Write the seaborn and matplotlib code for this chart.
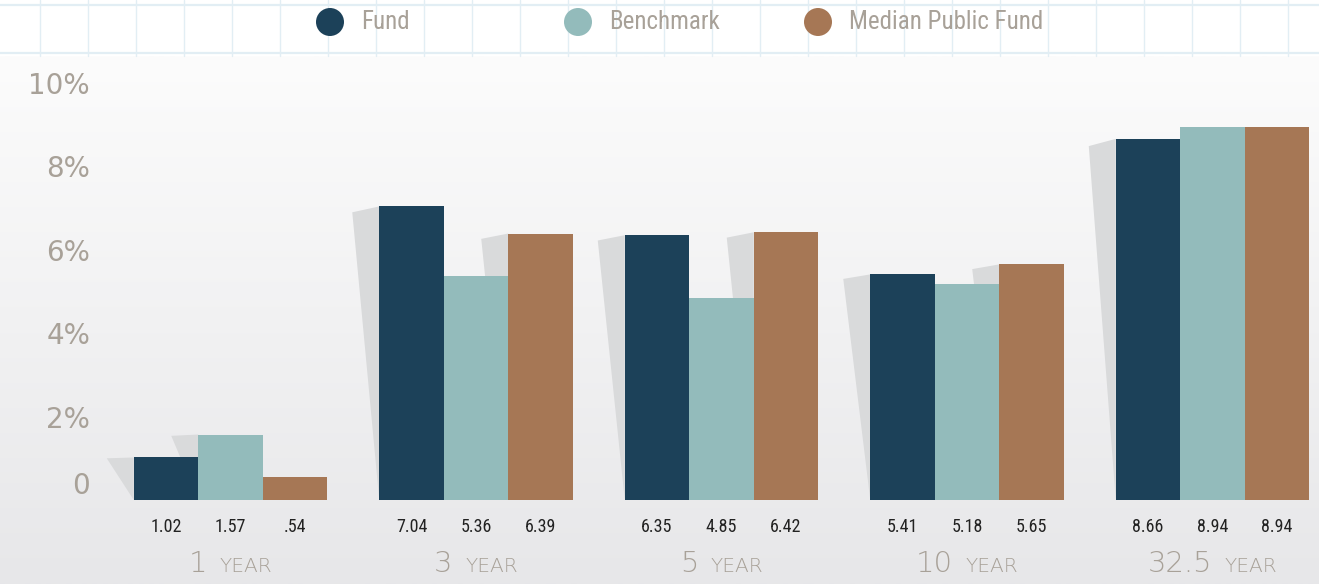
import numpy as np
import pandas as pd
import matplotlib
matplotlib.use("Agg")
import matplotlib.pyplot as plt
import seaborn as sns
from matplotlib import font_manager
from matplotlib.patches import Polygon, Ellipse
from matplotlib.offsetbox import TextArea, HPacker, AnnotationBbox

# ---- data -------------------------------------------------------------
period_numbers = ["1", "3", "5", "10", "32.5"]
period_word = "YEAR"
series = ["Fund", "Benchmark", "Median Public Fund"]
fund = [1.02, 7.04, 6.35, 5.41, 8.66]
benchmark = [1.57, 5.36, 4.85, 5.18, 8.94]
median_public = [0.54, 6.39, 6.42, 5.65, 8.94]
y_ticks = [0, 2, 4, 6, 8, 10]
y_tick_labels = ["0", "2%", "4%", "6%", "8%", "10%"]

# ---- style ------------------------------------------------------------
colors = ["#1c4159", "#93bbbb", "#a67755"]
shadow_color = "#d9dadb"
muted = "#a8a198"
grid_blue = "#e2eef4"

sns.set_theme(style="white")
available = {f.name for f in font_manager.fontManager.ttflist}


def pick(cands, default="DejaVu Sans"):
    for c in cands:
        if c in available:
            return c
    return default


narrow = pick(["Roboto Condensed", "Liberation Sans Narrow", "Open Sans Condensed"])
plain = pick(["DejaVu Sans"])
plt.rcParams["font.family"] = [plain]

W, H = 1319, 584
fig = plt.figure(figsize=(W / 100, H / 100), dpi=100)

# background: white grid band on top, soft grey gradient below
bg = fig.add_axes([0, 0, 1, 1], zorder=0)
bg.set_xlim(0, W)
bg.set_ylim(H, 0)
bg.axis("off")
band = 56
top_c = np.array([252, 252, 252]) / 255
bot_c = np.array([231, 231, 233]) / 255
t = np.linspace(0, 1, 256)[:, None, None]
grad = top_c * (1 - t) + bot_c * t
bg.imshow(grad, extent=(0, W, H, band), aspect="auto", interpolation="bilinear")
for gx in range(40, W, 48):
    bg.plot([gx, gx], [0, band], color=grid_blue, lw=1, zorder=1)
for gy in (5, 53):
    bg.plot([0, W], [gy, gy], color=grid_blue, lw=1.6, zorder=1)

# legend
legend_x = [330, 578, 818]
for name, col, cx in zip(series, colors, legend_x):
    bg.add_patch(Ellipse((cx, 22), 28, 28, color=col, lw=0, zorder=3))
    bg.text(cx + 31, 22, name, color=muted, fontsize=18, family=narrow,
            va="center", ha="left", zorder=3)

# ---- bars -------------------------------------------------------------
periods = [f"{n} {period_word}" for n in period_numbers]
df = pd.DataFrame({
    "period": periods * 3,
    "series": np.repeat(series, len(periods)),
    "value": fund + benchmark + median_public,
})

L = 100
ax = fig.add_axes([L / W, 0, (W - L) / W, 1], zorder=1)
ax.patch.set_alpha(0)
sns.barplot(data=df, x="period", y="value", hue="series", order=periods,
            hue_order=series, palette=colors, saturation=1, width=0.788,
            errorbar=None, legend=False, linewidth=0, ax=ax)

step = 245.5   # pixels between group centres
unit = 41.7    # pixels per percentage point
ax.set_xlim((L - 230.5) / step, (W - 230.5) / step)
ax.set_ylim(-84 / unit, 500 / unit)

values = [fund, benchmark, median_public]
shadow_w = 27 / step
for h, cont in enumerate(ax.containers):
    for i, p in enumerate(cont.patches):
        v = values[h][i]
        p.set_zorder(2)
        if h == 0 or v - values[h - 1][i] > 0.4:
            x0 = p.get_x()
            top = p.get_height()
            ax.add_patch(Polygon([(x0, top), (x0 - shadow_w, top * 0.98), (x0, 0)],
                                 closed=True, color=shadow_color, lw=0, zorder=1))
        txt = f"{v:.2f}"
        if txt.startswith("0"):
            txt = txt[1:]
        ax.annotate(txt, xy=(p.get_x() + p.get_width() / 2, 0),
                    xytext=(0, -27 * 0.72), textcoords="offset points",
                    ha="center", va="center", fontsize=13, family=narrow,
                    color="#222222")

# period labels: large number, smaller word
for i, n in enumerate(period_numbers):
    box = HPacker(children=[
        TextArea(n, textprops=dict(fontsize=21, color=muted, family=plain,
                                   fontweight="light")),
        TextArea(period_word, textprops=dict(fontsize=14.5, color=muted,
                                             family=plain, fontweight="light")),
    ], align="baseline", pad=0, sep=9)
    ab = AnnotationBbox(box, (i, 0), xybox=(0, -64 * 0.72),
                        boxcoords="offset points", frameon=False,
                        box_alignment=(0.5, 0.5), pad=0)
    ax.add_artist(ab)

ax.set_yticks(y_ticks, y_tick_labels)
ax.tick_params(axis="y", length=0, pad=10 * 0.72, labelsize=20,
               labelcolor=muted)
ax.yaxis.get_major_ticks()[0].label1.set_va("bottom")
ax.set_xticks([])
ax.set_xlabel("")
ax.set_ylabel("")
for s in ax.spines.values():
    s.set_visible(False)

fig.savefig("out.png", dpi=100)
